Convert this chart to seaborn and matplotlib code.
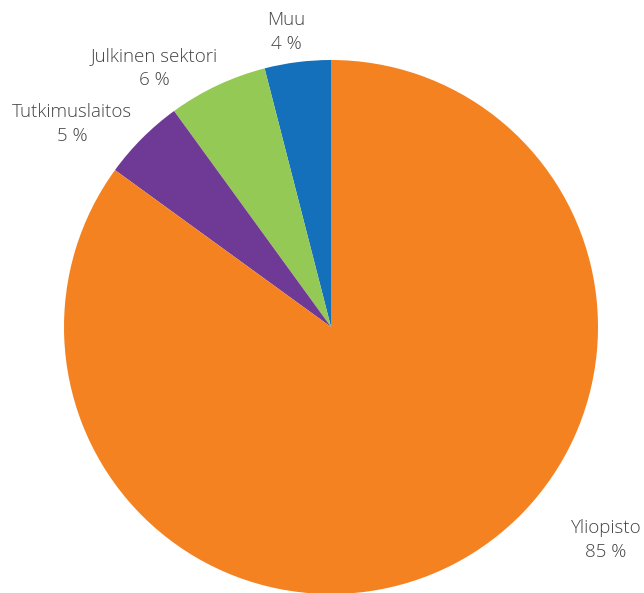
import matplotlib
matplotlib.use("Agg")
import matplotlib.pyplot as plt
import seaborn as sns

# Share of respondents by sector (%)
categories = ["Muu", "Julkinen sektori", "Tutkimuslaitos", "Yliopisto"]
shares = [4, 6, 5, 85]
colors = ["#1570BB", "#94C955", "#6F3996", "#F58220"]

sns.set_theme(style="white")
plt.rcParams["font.family"] = ["Open Sans", "DejaVu Sans"]

W, H = 644, 593
fig = plt.figure(figsize=(W / 100, H / 100), dpi=100)
ax = fig.add_axes([0, 0, 1, 1])

# pie centre and radius in pixels
cx, cy, r = 331, 327, 267

ax.pie(shares, colors=sns.color_palette(colors), startangle=90,
       counterclock=True, radius=1, center=(0, 0),
       wedgeprops=dict(linewidth=0))
ax.set_xlim(-cx / r, (W - cx) / r)
ax.set_ylim((cy - H) / r, cy / r)
ax.set_aspect("equal")
ax.axis("off")

# label anchors (pixel positions of the label blocks)
label_px = {
    "Muu": (286, 32),
    "Julkinen sektori": (154, 68),
    "Tutkimuslaitos": (72, 124),
    "Yliopisto": (606, 540),
}
for name, val in zip(categories, shares):
    px, py = label_px[name]
    ax.text((px - cx) / r, (cy - py) / r, f"{name}\n{val} %",
            ha="center", va="center", fontsize=13.5, color="#444444",
            fontweight="light", linespacing=1.42)

fig.savefig("out.png", dpi=100)
